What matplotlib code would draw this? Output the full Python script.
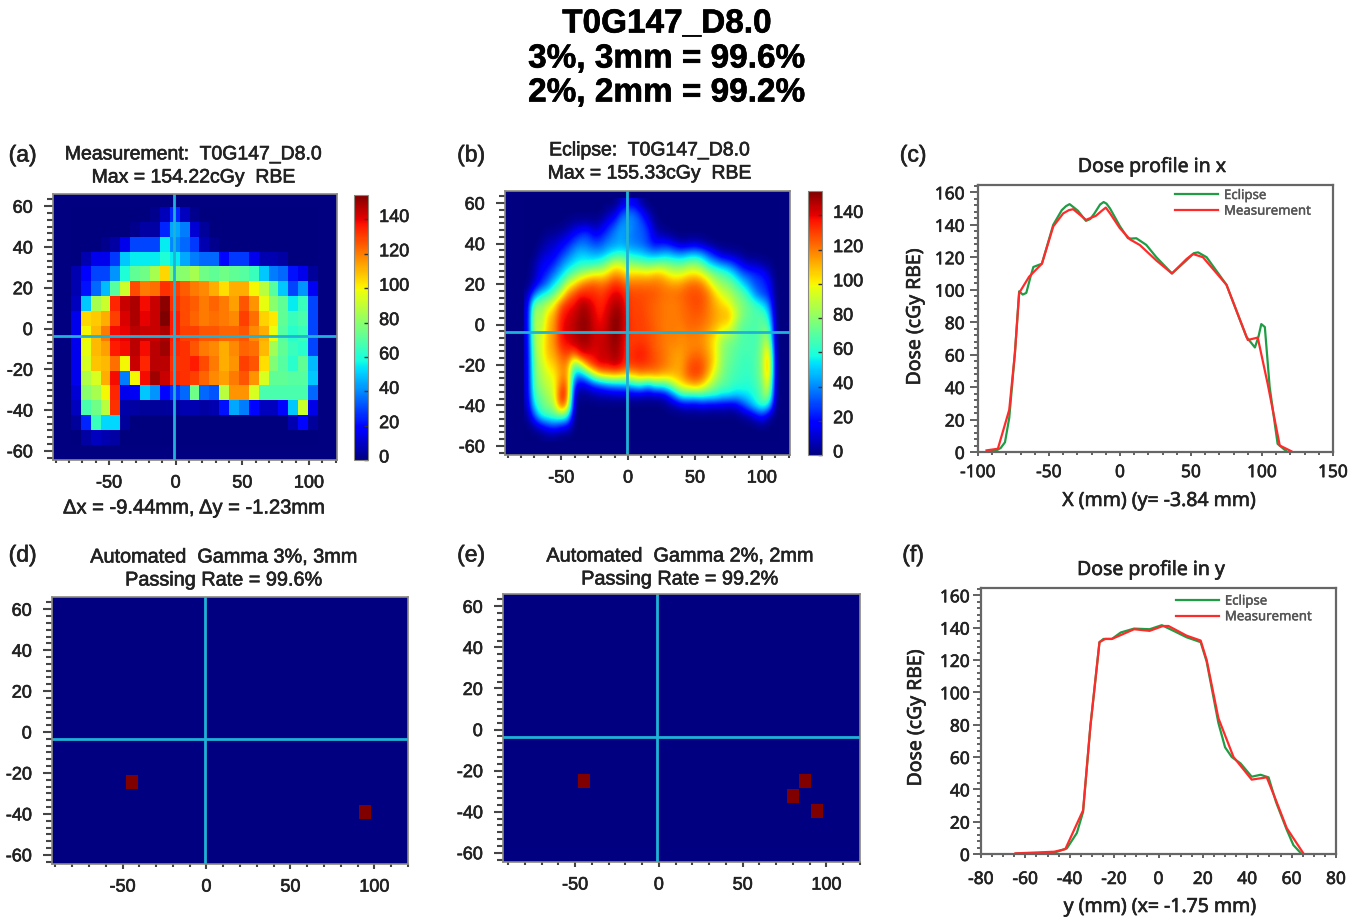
import matplotlib
matplotlib.use('Agg')
import matplotlib.pyplot as plt
import matplotlib.patheffects as pe
import numpy as np
from matplotlib.ticker import AutoMinorLocator
from matplotlib.transforms import ScaledTranslation

plt.rcParams['font.family'] = ['Liberation Sans', 'DejaVu Sans']
plt.rcParams['text.color'] = '#222222'
plt.rcParams['axes.unicode_minus'] = False

W, H = 1367, 919
DOSE_MAX = 154.22

main_titles = ['T0G147_D8.0', '3%, 3mm = 99.6%', '2%, 2mm = 99.2%']

# crosshair position as it sits in the maps
cross_x = -1.0
cross_y = -3.6

# measured dose per detector, rows top to bottom
dose_meas = [
    [0, 0, 0, 0, 0, 0, 0, 0, 2, 8, 25, 9, 2, 0, 0, 0, 0, 0, 0, 0, 0, 0, 0, 0, 0],
    [0, 0, 0, 0, 0, 0, 2, 5, 5, 25, 45, 38, 12, 4, 0, 0, 0, 0, 0, 0, 0, 0, 0, 0, 0],
    [0, 0, 0, 2, 5, 15, 30, 30, 30, 55, 40, 35, 28, 7, 2, 0, 0, 0, 0, 0, 0, 0, 0, 0, 0],
    [0, 7, 15, 15, 28, 50, 55, 55, 55, 60, 55, 45, 38, 35, 35, 20, 28, 28, 15, 7, 7, 5, 0, 0, 0],
    [7, 18, 30, 30, 42, 60, 72, 75, 85, 105, 78, 80, 85, 75, 72, 75, 72, 70, 65, 50, 38, 35, 22, 15, 4],
    [7, 22, 35, 48, 70, 92, 128, 120, 122, 132, 130, 125, 120, 118, 112, 104, 112, 112, 100, 88, 70, 50, 30, 42, 16],
    [9, 50, 85, 92, 134, 144, 148, 138, 144, 152, 132, 128, 125, 120, 124, 120, 114, 126, 116, 97, 80, 72, 55, 65, 30],
    [15, 105, 107, 112, 130, 142, 148, 140, 144, 154, 136, 128, 124, 120, 122, 120, 118, 130, 122, 106, 102, 72, 65, 68, 30],
    [15, 100, 110, 120, 138, 140, 146, 144, 144, 148, 136, 130, 130, 126, 126, 124, 124, 126, 118, 112, 98, 70, 62, 65, 30],
    [15, 97, 110, 114, 136, 138, 146, 138, 146, 150, 134, 132, 126, 120, 118, 112, 118, 124, 122, 110, 84, 72, 65, 62, 30],
    [15, 94, 108, 110, 122, 100, 144, 134, 146, 146, 132, 132, 136, 128, 120, 112, 116, 130, 126, 104, 78, 70, 62, 72, 48],
    [15, 87, 94, 112, 138, 38, 100, 138, 150, 144, 134, 132, 130, 124, 118, 114, 120, 126, 116, 94, 72, 72, 70, 70, 50],
    [12, 80, 85, 100, 134, 15, 16, 50, 42, 20, 28, 35, 75, 35, 32, 88, 116, 116, 94, 68, 68, 68, 68, 68, 35],
    [9, 68, 75, 88, 132, 6, 5, 4, 4, 4, 4, 7, 7, 5, 7, 22, 45, 38, 20, 9, 9, 20, 50, 92, 14],
    [4, 25, 65, 52, 52, 4, 0, 0, 0, 0, 0, 0, 0, 0, 0, 0, 0, 0, 0, 0, 0, 0, 7, 20, 4],
    [0, 5, 9, 7, 5, 0, 0, 0, 0, 0, 0, 0, 0, 0, 0, 0, 0, 0, 0, 0, 0, 0, 0, 0, 0],
]
meas_left, meas_right = -78.2, 106.8
meas_bottom, meas_top = -56.9, 59.7

# calculated dose read every 5 mm, one list per x, y from 60 down to -55
calc_x = [-75, -70, -65, -60, -55, -50, -45, -40, -35, -30, -25, -20, -15, -10, -5, 0, 5, 10, 15, 20,
          25, 30, 35, 40, 45, 50, 55, 60, 65, 70, 75, 80, 85, 90, 95, 100, 105, 110]
calc_y = [60, 55, 50, 45, 40, 35, 30, 25, 20, 15, 10, 5, 0, -5, -10, -15, -20, -25, -30, -35, -40, -45, -50, -55]
dose_calc = [
    [0, 0, 0, 0, 0, 0, 0, 0, 0, 4, 8, 8, 8, 8, 8, 8, 8, 8, 8, 8, 5, 2, 0, 0],
    [0, 0, 0, 0, 0, 0, 4, 6, 10, 35, 78, 92, 92, 90, 86, 80, 78, 75, 72, 65, 55, 30, 5, 0],
    [0, 0, 0, 0, 2, 8, 15, 18, 25, 55, 78, 80, 84, 88, 92, 92, 88, 85, 82, 75, 70, 60, 15, 0],
    [0, 0, 0, 2, 8, 12, 18, 25, 38, 62, 88, 104, 108, 110, 110, 108, 102, 95, 90, 85, 78, 65, 25, 2],
    [0, 0, 0, 3, 10, 15, 25, 38, 55, 74, 100, 112, 116, 116, 116, 112, 106, 100, 95, 92, 85, 70, 30, 2],
    [0, 0, 0, 6, 15, 25, 38, 50, 68, 92, 125, 134, 138, 138, 135, 125, 118, 115, 125, 138, 128, 75, 22, 0],
    [0, 0, 2, 10, 22, 35, 48, 64, 92, 118, 135, 140, 142, 142, 138, 130, 118, 118, 128, 128, 112, 65, 18, 0],
    [0, 0, 5, 18, 32, 45, 55, 75, 105, 128, 138, 144, 146, 146, 144, 118, 68, 45, 20, 6, 2, 0, 0, 0],
    [0, 0, 6, 25, 38, 50, 60, 85, 118, 136, 148, 150, 152, 150, 148, 140, 88, 40, 10, 2, 0, 0, 0, 0],
    [0, 0, 6, 28, 35, 48, 60, 92, 125, 134, 146, 150, 152, 150, 148, 140, 120, 60, 15, 2, 0, 0, 0, 0],
    [0, 0, 4, 15, 30, 45, 62, 100, 126, 134, 138, 140, 142, 144, 142, 140, 134, 88, 25, 5, 0, 0, 0, 0],
    [0, 0, 8, 20, 32, 45, 68, 98, 122, 130, 134, 136, 138, 144, 144, 144, 142, 105, 30, 6, 0, 0, 0, 0],
    [0, 6, 18, 30, 40, 52, 80, 106, 126, 136, 140, 144, 146, 146, 146, 144, 140, 108, 38, 6, 0, 0, 0, 0],
    [0, 10, 28, 40, 42, 58, 95, 116, 134, 142, 148, 152, 154, 154, 152, 150, 146, 112, 40, 8, 0, 0, 0, 0],
    [8, 30, 42, 45, 45, 62, 92, 112, 130, 140, 146, 150, 150, 148, 146, 144, 140, 108, 42, 8, 0, 0, 0, 0],
    [15, 38, 42, 42, 40, 55, 82, 104, 122, 130, 132, 132, 134, 132, 130, 131, 130, 105, 45, 8, 0, 0, 0, 0],
    [15, 35, 38, 36, 38, 52, 78, 106, 122, 128, 129, 129, 130, 130, 132, 135, 132, 110, 55, 8, 0, 0, 0, 0],
    [4, 22, 32, 34, 35, 50, 75, 106, 122, 128, 129, 130, 130, 130, 133, 137, 132, 116, 58, 8, 0, 0, 0, 0],
    [0, 8, 20, 28, 28, 45, 72, 104, 122, 127, 126, 126, 128, 128, 130, 132, 130, 114, 45, 6, 0, 0, 0, 0],
    [0, 0, 4, 10, 18, 42, 75, 110, 122, 126, 124, 124, 124, 126, 124, 127, 127, 116, 62, 8, 0, 0, 0, 0],
    [0, 0, 0, 5, 22, 45, 78, 108, 120, 123, 121, 122, 121, 122, 122, 123, 123, 112, 62, 8, 0, 0, 0, 0],
    [0, 0, 0, 2, 20, 48, 75, 100, 116, 122, 120, 120, 120, 120, 118, 118, 118, 110, 70, 20, 3, 0, 0, 0],
    [0, 0, 0, 0, 12, 42, 72, 94, 114, 122, 120, 120, 120, 120, 118, 114, 114, 110, 90, 40, 5, 0, 0, 0],
    [0, 0, 0, 0, 6, 40, 72, 96, 116, 124, 122, 122, 120, 118, 116, 114, 114, 114, 102, 62, 10, 0, 0, 0],
    [0, 0, 0, 0, 8, 45, 78, 102, 122, 127, 126, 124, 124, 120, 118, 120, 126, 126, 108, 62, 12, 0, 0, 0],
    [0, 0, 0, 0, 10, 48, 80, 104, 124, 128, 128, 126, 124, 120, 118, 124, 130, 130, 114, 62, 10, 0, 0, 0],
    [0, 0, 0, 0, 6, 42, 72, 98, 120, 127, 127, 125, 122, 118, 118, 122, 128, 126, 106, 65, 15, 0, 0, 0],
    [0, 0, 0, 0, 2, 30, 55, 86, 106, 120, 120, 120, 118, 112, 110, 114, 116, 110, 90, 62, 12, 0, 0, 0],
    [0, 0, 0, 0, 0, 18, 48, 75, 90, 106, 112, 114, 112, 104, 100, 102, 100, 90, 78, 62, 12, 0, 0, 0],
    [0, 0, 0, 0, 0, 8, 40, 70, 82, 95, 105, 110, 106, 90, 82, 82, 80, 78, 70, 55, 12, 0, 0, 0],
    [0, 0, 0, 0, 0, 6, 35, 62, 78, 88, 100, 110, 104, 85, 75, 75, 72, 70, 68, 55, 10, 0, 0, 0],
    [0, 0, 0, 0, 0, 4, 25, 50, 68, 80, 85, 95, 85, 78, 72, 70, 68, 66, 62, 50, 12, 0, 0, 0],
    [0, 0, 0, 0, 0, 2, 15, 35, 55, 72, 78, 78, 72, 68, 68, 66, 65, 64, 62, 52, 25, 3, 0, 0],
    [0, 0, 0, 0, 0, 0, 8, 30, 42, 60, 72, 72, 70, 68, 68, 66, 64, 63, 60, 55, 40, 6, 0, 0],
    [0, 0, 0, 0, 0, 0, 8, 25, 30, 40, 65, 68, 68, 66, 66, 68, 68, 68, 65, 60, 55, 15, 0, 0],
    [0, 0, 0, 0, 0, 0, 4, 22, 28, 30, 55, 70, 72, 75, 78, 80, 80, 78, 75, 72, 65, 25, 2, 0],
    [0, 0, 0, 0, 0, 0, 2, 10, 20, 25, 40, 55, 70, 85, 100, 120, 125, 122, 105, 90, 55, 8, 0, 0],
    [0, 0, 0, 0, 0, 0, 0, 0, 0, 0, 0, 0, 0, 0, 0, 0, 0, 0, 0, 0, 0, 0, 0, 0],
]

# failing points of the gamma maps
fail_3mm_x = [-44.5, 94.6]
fail_3mm_y = [-24.5, -39]
fail_2mm_x = [-44.8, 87.3, 79.8, 94.5]
fail_2mm_y = [-25, -25, -32.4, -39.6]

# profile in x
px_eclipse_x = [-93, -87, -84, -81, -78, -74, -71, -68.5, -66, -63, -61, -55, -47, -41, -38, -35.5, -33, -29.6, -24,
                -21, -18, -14, -11.5, -9.5, -7, 0, 5.6, 8, 11.5, 18.5, 25.6, 36.6, 46.7, 52, 55, 61, 75, 89, 95,
                97.5, 99.5, 102, 105.4, 111, 117]
px_eclipse_d = [0.2, 1, 2.5, 6, 21, 61, 99, 97, 98, 108, 114, 116, 140, 149, 151.5, 152.7, 151, 148.6, 142.4,
                143.5, 147, 152.5, 154, 153, 150, 139, 131.7, 131.5, 131.7, 127.6, 120, 110, 118, 122.5, 123, 120,
                103, 71, 64.4, 71, 78.8, 77, 40, 5, 0.6]
px_meas_x = [-94, -86, -78, -74, -71, -64, -55, -47, -40, -36, -33, -28, -24, -17, -13, -10, -7, -0.2, 7, 14, 25.6,
             36.6, 47, 51.4, 58.4, 75, 90, 97, 104, 112.5, 120.6]
px_meas_d = [1, 2, 26, 61, 98, 108, 116, 139, 147, 149, 149.6, 146, 143, 145.5, 148.5, 150.6, 147, 138, 131, 127.5,
             118, 110, 119, 122, 120, 103, 69, 70.5, 42, 4, 0.5]

# profile in y
py_eclipse_x = [-64, -47, -41.3, -36.8, -34, -30.7, -26.6, -24.8, -21, -17, -11, -4, 1.5, 6.8, 12.7, 19, 21.7,
                27, 30, 33, 37, 42, 46, 49.6, 53, 57.8, 60.8, 64.5]
py_eclipse_d = [0.2, 0.8, 3.5, 13, 26, 79, 131, 133, 133, 137, 139.4, 139, 141.5, 138, 134, 131, 119,
                81, 66, 60, 56, 47.8, 49, 47.4, 32, 15, 5.5, 0]
py_meas_x = [-64.5, -47, -42, -34, -30.7, -26.6, -24, -21, -16, -11, -4, 2, 4.5, 12.7, 19, 21.7, 27, 33.8, 42,
             48.8, 53, 57.8, 65.3]
py_meas_d = [0.4, 1.4, 3, 27, 79, 131, 133, 133, 136, 139, 138, 141, 141, 135, 132, 120, 84, 60, 46,
             47.4, 33, 16, 0.4]

GREEN = '#1f9d45'
RED = '#ff2b2b'
CROSS = '#1fb2d6'
DARK = '#444444'
SANS2 = 'Noto Sans'
NAVY = plt.cm.jet(0.0)
FAIL = plt.cm.jet(1.0)

fig = plt.figure(figsize=(W / 100, H / 100), dpi=100)


def px_axes(left, top, right, bottom):
    # axes from pixel edges of the picture
    return fig.add_axes([left / W, 1 - bottom / H, (right - left) / W, (bottom - top) / H])


def thicken(t, amount=0.45):
    t.set_path_effects([pe.withStroke(linewidth=amount, foreground=t.get_color())])


def px_text(x, y, s, size=14, **kw):
    kw.setdefault('ha', 'center')
    kw.setdefault('va', 'center')
    t = fig.text(x / W, 1 - (y + 2) / H, s, fontsize=size, **kw)
    thicken(t)


def style_map(ax, xlim=(-92, 121), ylim=(-64.5, 66)):
    ax.set_facecolor(NAVY)
    ax.set_xlim(*xlim)
    ax.set_ylim(*ylim)
    ax.set_aspect('auto')
    ax.set_xticks([-50, 0, 50, 100])
    ax.set_yticks([-60, -40, -20, 0, 20, 40, 60])
    ax.xaxis.set_minor_locator(AutoMinorLocator(5))
    ax.yaxis.set_minor_locator(AutoMinorLocator(6))
    ax.tick_params(axis='y', which='major', length=6.5, width=1.5, color=DARK, labelsize=13, labelcolor='#222222', pad=8)
    ax.tick_params(axis='y', which='minor', length=4, width=1.5, color=DARK)
    ax.tick_params(axis='x', which='major', length=3.5, width=1.5, color=DARK, labelsize=13, labelcolor='#222222', pad=7)
    ax.tick_params(axis='x', which='minor', length=2.5, width=1.5, color=DARK)
    ax.axvline(cross_x, color=CROSS, lw=2)
    ax.axhline(cross_y, color=CROSS, lw=2)
    for sp in ax.spines.values():
        sp.set_color('#8a8a80')
        sp.set_linewidth(1.2)
    for t in ax.get_xticklabels() + ax.get_yticklabels():
        thicken(t)


def style_bar(im, cax):
    cb = fig.colorbar(im, cax=cax)
    cb.set_ticks([0, 20, 40, 60, 80, 100, 120, 140])
    cax.tick_params(direction='in', length=3, width=1, color='#333333', labelsize=13, labelcolor='#222222', pad=8)
    cb.outline.set_edgecolor('#8a8a80')
    shift = ScaledTranslation(0, 4 / 100, fig.dpi_scale_trans)
    for t in cax.get_yticklabels():
        t.set_transform(t.get_transform() + shift)
        thicken(t)


def style_profile(ax, xlim, xticks, xminor, xpad, ypad, leg_x, leg_y):
    ax.set_xlim(*xlim)
    ax.set_ylim(0, 164.5)
    ax.set_xticks(xticks)
    ax.set_yticks(np.arange(0, 161, 20))
    ax.xaxis.set_minor_locator(AutoMinorLocator(xminor))
    ax.yaxis.set_minor_locator(AutoMinorLocator(5))
    ax.tick_params(axis='y', which='major', length=6, width=1.3, color='#555555', labelsize=12.5,
                   labelcolor='#222222', pad=ypad, labelfontfamily=SANS2)
    ax.tick_params(axis='y', which='minor', length=3, width=1.3, color='#555555')
    ax.tick_params(axis='x', which='major', length=3, width=1.3, color='#555555', labelsize=12.5,
                   labelcolor='#222222', pad=xpad, labelfontfamily=SANS2)
    ax.tick_params(axis='x', which='minor', length=2, width=1.3, color='#555555')
    for sp in ax.spines.values():
        sp.set_color('#666666')
        sp.set_linewidth(1.6)
    leg = ax.legend(loc='upper left', bbox_to_anchor=(leg_x, leg_y), frameon=False, handlelength=3.26,
                    labelspacing=0.2, handletextpad=0.45, borderaxespad=0, borderpad=0, labelcolor='#555555',
                    prop={'family': SANS2, 'size': 9.5})
    for t in leg.get_texts():
        thicken(t, 0.3)
    for t in ax.get_xticklabels() + ax.get_yticklabels():
        thicken(t)


# top heading
for y, s in zip([22, 57, 91], main_titles):
    px_text(667, y, s, size=24, fontweight='bold', color='black')

# (a) measurement
ax_a = px_axes(53, 194, 337, 460)
im_a = ax_a.imshow(dose_meas, cmap='jet', vmin=0, vmax=DOSE_MAX, interpolation='nearest',
                   extent=[meas_left, meas_right, meas_bottom, meas_top], zorder=1)
style_map(ax_a)
style_bar(im_a, px_axes(354, 195, 368, 460))

# (b) eclipse
ax_b = px_axes(505, 191, 790, 455)
calc_grid = np.array(dose_calc).T
im_b = ax_b.imshow(calc_grid, cmap='jet', vmin=0, vmax=DOSE_MAX, interpolation='bicubic',
                   extent=[calc_x[0] - 2.5, calc_x[-1] + 2.5, calc_y[-1] - 2.5, calc_y[0] + 2.5], zorder=1)
style_map(ax_b)
style_bar(im_b, px_axes(808, 191, 822, 455))

# (c) profile in x
ax_c = px_axes(978, 185, 1333, 452)
ax_c.plot(px_eclipse_x, px_eclipse_d, color=GREEN, lw=1.6, label='Eclipse')
ax_c.plot(px_meas_x, px_meas_d, color=RED, lw=1.6, label='Measurement')
style_profile(ax_c, (-100, 150), [-100, -50, 0, 50, 100, 150], 5, 5, 3.5, 0.555, 0.985)

# (d) gamma 3%, 3mm
ax_d = px_axes(52, 597, 408, 864)
ax_d.bar(fail_3mm_x, 6.8, width=7.1, bottom=np.array(fail_3mm_y) - 3.4, color=FAIL, zorder=3)
style_map(ax_d, xlim=(-92, 120))

# (e) gamma 2%, 2mm
ax_e = px_axes(503, 594, 860, 862)
ax_e.bar(fail_2mm_x, 6.8, width=7.1, bottom=np.array(fail_2mm_y) - 3.4, color=FAIL, zorder=3)
style_map(ax_e, xlim=(-93, 120))

# (f) profile in y
ax_f = px_axes(981, 588, 1336, 854)
ax_f.plot(py_eclipse_x, py_eclipse_d, color=GREEN, lw=1.6, label='Eclipse')
ax_f.plot(py_meas_x, py_meas_d, color=RED, lw=1.6, label='Measurement')
style_profile(ax_f, (-80, 80), list(range(-80, 81, 20)), 4, 8.5, 2, 0.549, 0.975)

# panel letters
for x, y, s in [(22.5, 153, '(a)'), (471, 153, '(b)'), (913, 153, '(c)'),
                (22.5, 553, '(d)'), (471, 553, '(e)'), (913, 553, '(f)')]:
    px_text(x, y, s, size=16.5)

# panel titles
px_text(194, 153, 'Measurement:  T0G147_D8.0', size=14)
px_text(194, 176, 'Max = 154.22cGy  RBE', size=14)
px_text(650, 149, 'Eclipse:  T0G147_D8.0', size=14)
px_text(650, 172, 'Max = 155.33cGy  RBE', size=14)
px_text(194, 506, '\u0394x = -9.44mm, \u0394y = -1.23mm', size=14.5)
px_text(224, 555, 'Automated  Gamma 3%, 3mm', size=14.3)
px_text(224, 578, 'Passing Rate = 99.6%', size=14.3)
px_text(680, 554, 'Automated  Gamma 2%, 2mm', size=14.3)
px_text(680, 577, 'Passing Rate = 99.2%', size=14.3)
px_text(1152, 165, 'Dose profile in x', size=14, family=SANS2)
px_text(1151, 568, 'Dose profile in y', size=14, family=SANS2)
px_text(1159, 499, 'X (mm) (y= -3.84 mm)', size=14, family=SANS2)
px_text(1160, 905, 'y (mm) (x= -1.75 mm)', size=14, family=SANS2)
px_text(915, 315, 'Dose (cGy RBE)', size=14, rotation=90, family=SANS2)
px_text(916, 716, 'Dose (cGy RBE)', size=14, rotation=90, family=SANS2)

fig.savefig('out.png', dpi=100)
